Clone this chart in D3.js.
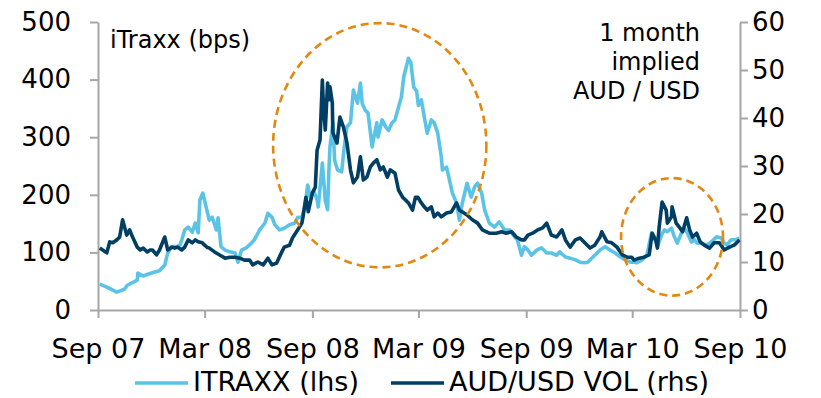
<!DOCTYPE html>
<html>
<head>
<meta charset="utf-8">
<script src="https://cdn.jsdelivr.net/npm/d3@7"></script>
<style>
  html, body { margin: 0; padding: 0; background: #fff; }
  svg { display: block; }
  text { font-family: "DejaVu Sans", Verdana, sans-serif; fill: #000; }
</style>
</head>
<body>
<svg id="chart" width="821" height="398"></svg>
<script>
// iTraxx spread, bps (left axis)
const itraxx = [
  ["2007-09-04",45],["2007-09-18",39],["2007-10-03",31],["2007-10-16",36],["2007-10-21",43],
  ["2007-11-07",52],["2007-11-08",64],["2007-11-17",59],["2007-11-25",62],["2007-12-07",66],
  ["2007-12-15",68],["2007-12-24",78],["2007-12-29",99],["2008-01-05",110],["2008-01-14",110],
  ["2008-01-19",113],["2008-01-22",122],["2008-01-27",139],["2008-02-02",144],["2008-02-09",135],
  ["2008-02-14",151],["2008-02-19",134],["2008-02-22",191],["2008-02-27",203],["2008-03-04",177],
  ["2008-03-09",156],["2008-03-14",161],["2008-03-21",139],["2008-03-24",160],["2008-03-29",110],
  ["2008-04-05",104],["2008-04-13",101],["2008-04-22",99],["2008-04-27",83],["2008-05-03",104],
  ["2008-05-11",108],["2008-05-20",116],["2008-05-25",122],["2008-06-03",139],["2008-06-12",151],
  ["2008-06-17",168],["2008-06-24",161],["2008-06-29",148],["2008-07-07",139],["2008-07-15",142],
  ["2008-07-24",148],["2008-08-02",151],["2008-08-07",161],["2008-08-14",160],["2008-08-19",179],
  ["2008-08-24",217],["2008-08-28",196],["2008-09-04",205],["2008-09-09",191],["2008-09-11",179],
  ["2008-09-18",255],["2008-09-23",190],["2008-09-27",174],["2008-09-29",238],["2008-10-01",283],
  ["2008-10-06",325],["2008-10-09",260],["2008-10-14",243],["2008-10-21",240],["2008-10-25",280],
  ["2008-10-30",318],["2008-11-05",325],["2008-11-10",382],["2008-11-17",359],["2008-11-22",394],
  ["2008-11-25",359],["2008-11-30",347],["2008-12-05",342],["2008-12-12",283],["2008-12-14",295],
  ["2008-12-20",325],["2008-12-22",300],["2008-12-29",330],["2009-01-04",318],["2009-01-09",312],
  ["2009-01-15",325],["2009-01-20",330],["2009-01-26",352],["2009-01-31",370],["2009-02-04",405],
  ["2009-02-09",425],["2009-02-12",437],["2009-02-16",430],["2009-02-21",387],["2009-02-26",380],
  ["2009-03-01",355],["2009-03-06",365],["2009-03-11",335],["2009-03-16",307],["2009-03-23",330],
  ["2009-03-28",325],["2009-04-03",307],["2009-04-09",266],["2009-04-11",243],["2009-04-18",248],
  ["2009-04-23",226],["2009-04-28",203],["2009-05-05",186],["2009-05-10",156],["2009-05-15",186],
  ["2009-05-23",220],["2009-05-30",196],["2009-06-05",214],["2009-06-10",220],["2009-06-17",203],
  ["2009-06-22",174],["2009-06-30",151],["2009-07-09",144],["2009-07-17",153],["2009-07-26",139],
  ["2009-08-04",139],["2009-08-12",127],["2009-08-17",122],["2009-08-24",95],["2009-08-29",110],
  ["2009-09-04",104],["2009-09-10",95],["2009-09-19",104],["2009-09-27",108],["2009-10-06",99],
  ["2009-10-14",99],["2009-10-23",95],["2009-10-28",101],["2009-11-07",92],["2009-11-15",90],
  ["2009-11-24",87],["2009-12-02",83],["2009-12-10",82],["2009-12-15",83],["2009-12-24",92],
  ["2010-01-05",104],["2010-01-14",110],["2010-01-22",104],["2010-01-31",99],["2010-02-09",92],
  ["2010-02-17",87],["2010-02-26",83],["2010-03-04",83],["2010-03-09",82],["2010-03-18",87],
  ["2010-03-26",95],["2010-04-03",134],["2010-04-08",127],["2010-04-13",110],["2010-04-20",130],
  ["2010-04-25",139],["2010-04-30",136],["2010-05-07",142],["2010-05-12",127],["2010-05-17",116],
  ["2010-05-24",134],["2010-05-29",142],["2010-06-03",134],["2010-06-10",118],["2010-06-15",122],
  ["2010-06-20",116],["2010-06-27",116],["2010-07-06",113],["2010-07-14",118],["2010-07-23",127],
  ["2010-07-31",125],["2010-08-05",116],["2010-08-10",113],["2010-08-17",122],["2010-08-25",122],
  ["2010-08-31",125]
];

// 1 month implied AUD/USD volatility, % (right axis)
const audVol = [
  ["2007-09-04",12.9],["2007-09-09",12.5],["2007-09-16",11.9],["2007-09-21",14.2],["2007-09-26",14.0],
  ["2007-10-03",14.6],["2007-10-08",15.2],["2007-10-13",18.8],["2007-10-20",15.6],["2007-10-25",16.7],
  ["2007-10-30",15.2],["2007-11-07",13.1],["2007-11-12",12.5],["2007-11-17",12.9],["2007-11-24",12.1],
  ["2007-11-29",12.5],["2007-12-03",12.5],["2007-12-10",11.5],["2007-12-15",12.5],["2007-12-20",14.0],
  ["2007-12-24",15.2],["2007-12-29",12.5],["2008-01-05",13.1],["2008-01-10",12.9],["2008-01-15",13.1],
  ["2008-01-22",12.5],["2008-01-27",13.1],["2008-02-02",14.6],["2008-02-09",14.0],["2008-02-14",14.6],
  ["2008-02-19",14.2],["2008-02-26",14.0],["2008-03-01",13.5],["2008-03-06",13.0],["2008-03-09",12.9],
  ["2008-03-18",12.1],["2008-03-26",11.5],["2008-04-05",10.8],["2008-04-13",11.0],["2008-04-22",11.0],
  ["2008-04-30",10.8],["2008-05-08",10.4],["2008-05-17",10.4],["2008-05-22",9.4],["2008-05-31",10.0],
  ["2008-06-09",9.4],["2008-06-17",10.8],["2008-06-24",9.4],["2008-07-02",9.8],["2008-07-10",11.9],
  ["2008-07-15",13.1],["2008-07-24",13.5],["2008-07-29",15.0],["2008-08-07",16.7],["2008-08-14",18.1],
  ["2008-08-16",19.4],["2008-08-21",23.5],["2008-08-25",20.5],["2008-09-01",24.4],["2008-09-06",25.6],
  ["2008-09-09",33.3],["2008-09-14",35.4],["2008-09-18",47.9],["2008-09-20",42.3],["2008-09-23",37.5],
  ["2008-09-27",47.3],["2008-09-29",43.8],["2008-10-01",46.5],["2008-10-05",43.1],["2008-10-06",36.9],
  ["2008-10-13",34.8],["2008-10-18",40.2],["2008-10-24",38.1],["2008-10-30",34.8],["2008-11-05",29.2],
  ["2008-11-10",26.5],["2008-11-17",27.7],["2008-11-22",31.9],["2008-11-27",27.1],["2008-12-03",27.7],
  ["2008-12-09",29.8],["2008-12-14",30.6],["2008-12-20",31.3],["2008-12-26",29.2],["2008-12-31",29.8],
  ["2009-01-07",27.7],["2009-01-12",29.2],["2009-01-20",28.5],["2009-01-26",25.0],["2009-02-02",23.5],
  ["2009-02-07",22.9],["2009-02-12",22.3],["2009-02-19",20.8],["2009-02-24",23.5],["2009-02-28",23.5],
  ["2009-03-06",22.3],["2009-03-11",21.5],["2009-03-16",20.8],["2009-03-23",21.5],["2009-03-28",19.4],
  ["2009-04-03",20.2],["2009-04-09",19.4],["2009-04-18",20.2],["2009-04-26",20.4],["2009-05-05",22.3],
  ["2009-05-10",20.8],["2009-05-18",20.2],["2009-05-23",19.8],["2009-06-01",18.8],["2009-06-10",18.1],
  ["2009-06-18",16.7],["2009-06-30",16.0],["2009-07-12",16.0],["2009-07-21",16.3],["2009-07-29",16.0],
  ["2009-08-07",16.3],["2009-08-15",15.2],["2009-08-24",14.6],["2009-08-29",14.6],["2009-09-04",15.6],
  ["2009-09-12",16.0],["2009-09-21",16.7],["2009-09-29",17.1],["2009-10-06",18.1],["2009-10-14",15.6],
  ["2009-10-23",15.2],["2009-11-01",16.7],["2009-11-07",14.6],["2009-11-15",13.1],["2009-11-24",14.6],
  ["2009-12-02",15.0],["2009-12-10",14.0],["2009-12-19",12.9],["2009-12-27",13.5],["2010-01-05",15.2],
  ["2010-01-08",16.3],["2010-01-17",14.2],["2010-01-25",14.0],["2010-02-03",13.1],["2010-02-12",11.5],
  ["2010-02-20",11.0],["2010-02-28",11.0],["2010-03-04",10.4],["2010-03-13",10.8],["2010-03-21",11.0],
  ["2010-03-30",11.5],["2010-04-04",16.0],["2010-04-11",14.2],["2010-04-13",12.9],["2010-04-16",17.3],
  ["2010-04-21",22.5],["2010-04-28",20.8],["2010-04-30",18.1],["2010-05-07",19.4],["2010-05-08",21.5],
  ["2010-05-15",18.1],["2010-05-20",17.3],["2010-05-26",16.3],["2010-06-02",19.2],["2010-06-07",16.7],
  ["2010-06-12",15.2],["2010-06-19",16.0],["2010-06-25",14.2],["2010-07-02",13.5],["2010-07-11",12.9],
  ["2010-07-19",14.0],["2010-07-28",14.0],["2010-08-05",12.5],["2010-08-14",13.1],["2010-08-22",13.5],
  ["2010-08-31",14.6]
];

// Axis ticks
const xTickDates = ["2007-09-01","2008-03-01","2008-09-01","2009-03-01","2009-09-01","2010-03-01","2010-09-01"];
const leftTicks = [0, 100, 200, 300, 400, 500];
const rightTicks = [0, 10, 20, 30, 40, 50, 60];

// Highlighted periods: [centre date, centre iTraxx level, half-width in days, half-height in bps]
const highlights = [
  ["2008-12-25", 286, 182, 212],
  ["2010-05-08", 127, 87, 102]
];

const legendItems = [
  { label: "ITRAXX (lhs)", color: "#5BC4E6" },
  { label: "AUD/USD VOL (rhs)", color: "#003F63" }
];

const parse = d3.timeParse("%Y-%m-%d");
const svg = d3.select("#chart");

const plot = { left: 98, right: 740, top: 22, bottom: 310 };

const x = d3.scaleTime()
  .domain([parse("2007-09-01"), parse("2010-09-01")])
  .range([plot.left, plot.right]);
const yL = d3.scaleLinear().domain([0, 500]).range([plot.bottom, plot.top]);
const yR = d3.scaleLinear().domain([0, 60]).range([plot.bottom, plot.top]);

const axisColor = "#A6A6A6";
const fmt = d3.timeFormat("%b %y");

function styleAxis(g, size) {
  g.select(".domain").attr("stroke", axisColor).attr("stroke-width", 2);
  g.selectAll(".tick line").attr("stroke", axisColor).attr("stroke-width", 2);
  g.selectAll(".tick text").attr("font-size", size).attr("font-family", "DejaVu Sans, Verdana, sans-serif").attr("fill", "#000");
}

// Left axis
svg.append("g")
  .attr("transform", `translate(${plot.left},0)`)
  .call(d3.axisLeft(yL).tickValues(leftTicks).tickSize(8).tickSizeOuter(0).tickPadding(19))
  .call(styleAxis, 26);

// Right axis
svg.append("g")
  .attr("transform", `translate(${plot.right},0)`)
  .call(d3.axisRight(yR).tickValues(rightTicks).tickSize(8).tickSizeOuter(0).tickPadding(4))
  .call(styleAxis, 26);

// Bottom axis
svg.append("g")
  .attr("transform", `translate(0,${plot.bottom})`)
  .call(d3.axisBottom(x).tickValues(xTickDates.map(parse)).tickFormat(fmt).tickSize(8).tickSizeOuter(0).tickPadding(21))
  .call(styleAxis, 27);

// Series lines
const lineL = d3.line().x(d => x(parse(d[0]))).y(d => yL(d[1]));
const lineR = d3.line().x(d => x(parse(d[0]))).y(d => yR(d[1]));

svg.append("path").datum(itraxx)
  .attr("fill", "none").attr("stroke", legendItems[0].color)
  .attr("stroke-width", 3.6).attr("stroke-linejoin", "round")
  .attr("d", lineL);

svg.append("path").datum(audVol)
  .attr("fill", "none").attr("stroke", legendItems[1].color)
  .attr("stroke-width", 3.6).attr("stroke-linejoin", "round")
  .attr("d", lineR);

// Dashed circles around the stress periods
highlights.forEach(h => {
  const c = parse(h[0]);
  const cx = x(c), cy = yL(h[1]);
  const rx = x(d3.timeDay.offset(c, h[2])) - cx;
  const ry = yL(0) - yL(h[3]);
  svg.append("ellipse")
    .attr("cx", cx).attr("cy", cy).attr("rx", rx).attr("ry", ry)
    .attr("fill", "none").attr("stroke", "#E3870F")
    .attr("stroke-width", 2.6).attr("stroke-dasharray", "8,5");
});

// Axis titles inside the plot
svg.append("text").attr("x", 110).attr("y", 48).attr("font-size", 24).text("iTraxx (bps)");
const rTitle = svg.append("text").attr("text-anchor", "end").attr("font-size", 24);
["1 month", "implied", "AUD / USD"].forEach((t, i) => {
  rTitle.append("tspan").attr("x", 700).attr("y", 41 + i * 29).text(t);
});

// Legend
const legend = svg.append("g").attr("transform", "translate(0,383)");
const legendX = [135, 391];
legendItems.forEach((d, i) => {
  legend.append("line")
    .attr("x1", legendX[i]).attr("x2", legendX[i] + 53)
    .attr("y1", 0).attr("y2", 0)
    .attr("stroke", d.color).attr("stroke-width", 3.5);
  legend.append("text")
    .attr("x", legendX[i] + 58).attr("y", 8)
    .attr("font-size", 27).text(d.label);
});
</script>
</body>
</html>
